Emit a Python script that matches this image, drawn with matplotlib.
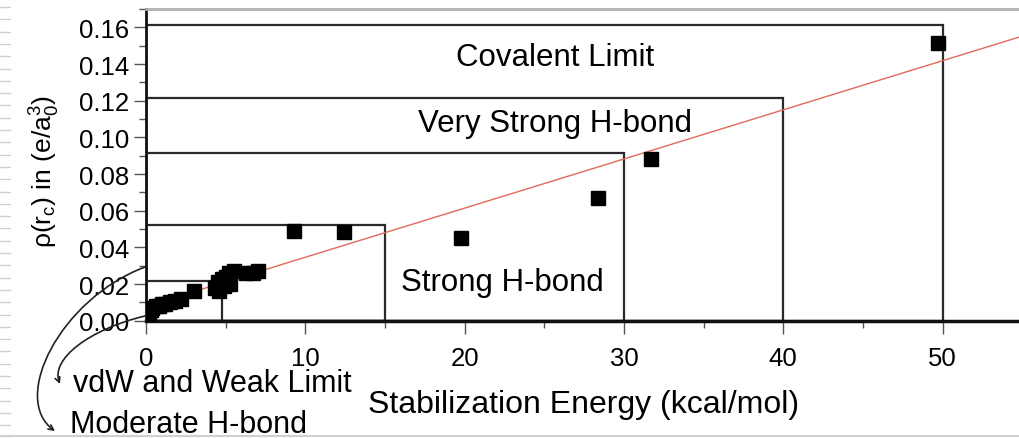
import matplotlib
matplotlib.use("Agg")
import matplotlib.pyplot as plt
from matplotlib.patches import Rectangle, FancyArrowPatch
from matplotlib.path import Path
from matplotlib.ticker import MultipleLocator, FormatStrFormatter

plt.rcParams['font.family'] = ['Liberation Sans', 'DejaVu Sans']
plt.rcParams['mathtext.fontset'] = 'custom'
plt.rcParams['mathtext.rm'] = 'Liberation Sans'
plt.rcParams['mathtext.it'] = 'Liberation Sans:italic'

# ---- data ----
energy = [0.1, 0.2, 0.3, 0.4, 0.6, 0.8, 1.0, 1.2, 1.5, 1.8, 2.2, 3.0,
          4.3, 4.5, 4.6, 4.8, 4.9, 5.0, 5.2, 5.3, 5.5, 6.3, 6.7, 7.0,
          9.3, 12.4, 19.8, 28.4, 31.7, 49.7]
density = [0.002, 0.004, 0.006, 0.007, 0.008, 0.008, 0.009, 0.009, 0.010, 0.011, 0.012, 0.016,
           0.018, 0.021, 0.016, 0.023, 0.019, 0.024, 0.026, 0.020, 0.027, 0.026, 0.026, 0.027,
           0.0489, 0.0484, 0.0451, 0.0669, 0.0882, 0.1515]
fit_intercept = 0.0078
fit_slope = 0.00268
fit_range = [0, 55]

box_names = ["Covalent Limit", "Very Strong H-bond", "Strong H-bond", "Moderate H-bond", "vdW and Weak Limit"]
box_right = [50, 40, 30, 15, 4.8]
box_top = [0.1614, 0.1213, 0.0915, 0.052, 0.0215]

x_ticks = [0, 10, 20, 30, 40, 50]
y_ticks = [0.00, 0.02, 0.04, 0.06, 0.08, 0.10, 0.12, 0.14, 0.16]

W, H = 1019, 439
fig = plt.figure(figsize=(W / 100, H / 100), dpi=100)

def fx(px):
    return px / W

def fy(py):
    return (H - py) / H

ax_l, ax_r, ax_t, ax_b = 146, 1019, 10, 321.7
ax = fig.add_axes([fx(ax_l), fy(ax_b), (ax_r - ax_l) / W, (ax_b - ax_t) / H])
ax.set_xlim(0, 54.8)
ax.set_ylim(0, 0.17)

# boxes
for r, t in zip(box_right, box_top):
    ax.add_patch(Rectangle((0, 0), r, t, fill=False, edgecolor='#2a2a2a', lw=1.6, zorder=2))

# fit line
ax.plot(fit_range, [fit_intercept + fit_slope * x for x in fit_range],
        color='#e06a5a', lw=1.0, zorder=3)

# points
ax.plot(energy, density, linestyle='none', marker='s', markersize=9.5,
        color='black', zorder=4)

# box labels
ax.text(25.7, 0.1438, box_names[0], ha='center', va='center', fontsize=22.5)
ax.text(25.7, 0.1078, box_names[1], ha='center', va='center', fontsize=22.5)
ax.text(22.35, 0.0211, box_names[2], ha='center', va='center', fontsize=22.5)

# spines and ticks
ax.spines['right'].set_visible(False)
ax.spines['top'].set_color('#b0b0b0')
ax.spines['top'].set_linewidth(2)
ax.spines['left'].set_color('#111111')
ax.spines['left'].set_linewidth(2)
ax.spines['bottom'].set_color('#111111')
ax.spines['bottom'].set_linewidth(2.5)
ax.set_xticks(x_ticks)
ax.set_yticks(y_ticks)
ax.xaxis.set_minor_locator(MultipleLocator(5))
ax.yaxis.set_minor_locator(MultipleLocator(0.01))
ax.yaxis.set_major_formatter(FormatStrFormatter('%.2f'))
ax.tick_params(which='major', length=9, width=1, color='#555555', labelsize=18.5)
ax.tick_params(which='minor', length=5, width=1, color='#555555')
ax.tick_params(axis='x', which='major', pad=9)
ax.tick_params(axis='y', which='major', pad=3)

# axis labels
fig.text(fx(584), fy(405), "Stabilization Energy (kcal/mol)", ha='center', va='center', fontsize=23)
fig.text(fx(45), fy(172), r"ρ(r$_\mathregular{c}$) in (e/a$_\mathregular{0}^\mathregular{3}$)",
         ha='center', va='center', rotation=90, fontsize=19)

# curved arrows
def curve_arrow(pts):
    verts = [(fx(x), fy(y)) for x, y in pts]
    codes = [Path.MOVETO, Path.CURVE4, Path.CURVE4, Path.CURVE4]
    p = FancyArrowPatch(path=Path(verts, codes), arrowstyle='->', mutation_scale=9,
                        lw=1.2, color='#222222', transform=fig.transFigure, clip_on=False)
    fig.add_artist(p)

curve_arrow([(145, 317), (90, 330), (50, 360), (60, 385)])
curve_arrow([(145, 268), (60, 300), (10, 400), (55, 432)])

fig.text(fx(73), fy(384), box_names[4], ha='left', va='center', fontsize=22)
fig.text(fx(70), fy(425), box_names[3], ha='left', va='center', fontsize=22)

# left ruler artifacts
for i in range(36):
    yy = 8 + i * 12.3
    fig.add_artist(plt.Line2D([fx(0), fx(10)], [fy(yy), fy(yy)], color='#d0d0d0', lw=1,
                              transform=fig.transFigure))
fig.add_artist(plt.Line2D([fx(0), fx(W)], [fy(437), fy(437)], color='#d0d0d0', lw=1.5,
                          transform=fig.transFigure))

fig.savefig("out.png", dpi=100)
